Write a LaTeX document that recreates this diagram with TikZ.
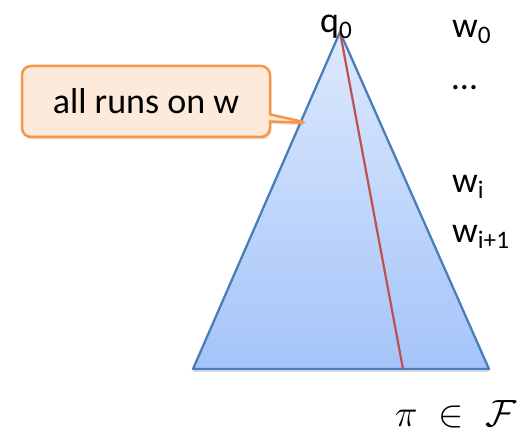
\documentclass[tikz,border=0pt]{standalone}
\usepackage{fix-cm}
\usepackage{fontspec}
\setmainfont{Carlito}
\usetikzlibrary{shapes.callouts,shadows}
\definecolor{treeline}{HTML}{4A7EBB}
\definecolor{treetop}{HTML}{DDE9FD}
\definecolor{treebot}{HTML}{A4C4F9}
\definecolor{runred}{HTML}{C0504D}
\definecolor{noteline}{HTML}{F79646}
\definecolor{notebg}{HTML}{FDEADA}

\begin{document}
\begin{tikzpicture}[x=1pt,y=1pt,
    tree/.style={draw=treeline,line width=2.3pt,line join=round,
                 top color=treetop,bottom color=treebot,
                 drop shadow={shadow xshift=0pt,shadow yshift=-3pt,opacity=0.25}},
    run/.style={draw=runred,line width=2.2pt},
    note/.style={rectangle callout,rounded corners=9pt,draw=noteline,fill=notebg,
                 line width=2.5pt,minimum width=248pt,minimum height=71pt,
                 font=\fontsize{36}{42}\selectfont,
                 drop shadow={shadow xshift=1.5pt,shadow yshift=-2.5pt,opacity=0.2}},
    wlabel/.style={anchor=base west,inner sep=0pt,font=\fontsize{36}{42}\selectfont},
  ]
    \useasboundingbox (0,0) rectangle (532,434);

    % run tree of the automaton
    \coordinate (apex) at (340,402);
    \coordinate (bl)   at (193,65);
    \coordinate (br)   at (489,65);
    \coordinate (foot) at (403,65);
    \path[tree] (apex) -- (br) -- (bl) -- cycle;
    \draw[run] (apex) -- (foot);

    % letters of the word, level by level
    \node[wlabel] (q0)   at (320,401) {q\textsubscript{0}};
    \node[wlabel] (w0)   at (452,396) {w\textsubscript{0}};
    \node[wlabel] (dots) at (452,344) {\dots};
    \node[wlabel] (wi)   at (452,241) {w\textsubscript{i}};
    \node[wlabel] (wi1)  at (452,191) {w\textsubscript{i+1}};

    % accepting path
    \node[wlabel,font=\fontsize{38}{44}\selectfont] (pi) at (395,8) {$\pi\;\in\;\mathcal{F}$};

    \node[note,callout absolute pointer={(308,311)}] (runs) at (146,332.5) {all runs on w};
  \end{tikzpicture}
\end{document}
